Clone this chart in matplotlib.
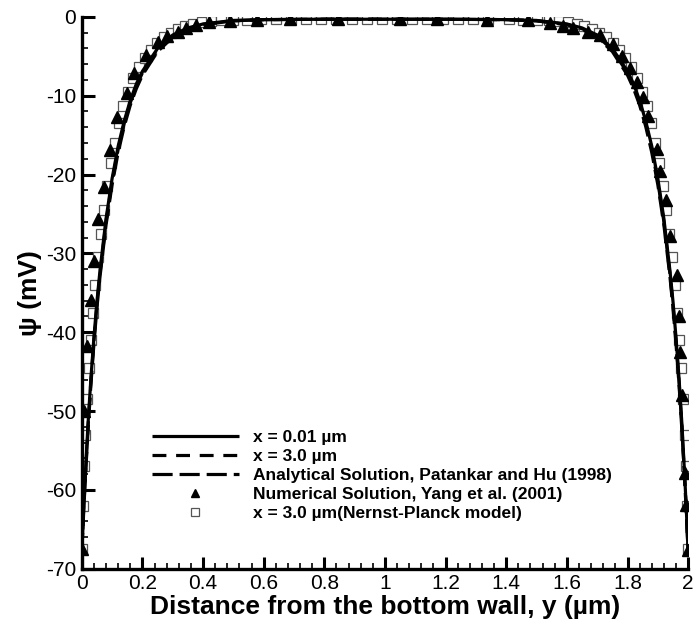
import matplotlib
matplotlib.use("Agg")
import matplotlib.pyplot as plt
from matplotlib.ticker import MultipleLocator, FuncFormatter

plt.rcParams['font.family'] = ['Liberation Sans', 'DejaVu Sans']
plt.rcParams['axes.unicode_minus'] = False
plt.rcParams['lines.scale_dashes'] = False

# ---- data ----
y_line = [0.0, 0.005, 0.01, 0.02, 0.03, 0.04, 0.05, 0.06, 0.08, 0.10, 0.12, 0.14, 0.16,
          0.18, 0.20, 0.25, 0.30, 0.35, 0.40, 0.50, 0.60, 0.80, 1.00, 1.20, 1.40, 1.50,
          1.60, 1.65, 1.70, 1.75, 1.80, 1.82, 1.84, 1.86, 1.88, 1.90, 1.92, 1.94, 1.95,
          1.96, 1.97, 1.98, 1.99, 1.995, 2.0]
psi_x001 = [-68.0, -63.4, -59.3, -52.0, -45.9, -40.7, -36.1, -32.2, -25.6, -20.5, -16.4, -13.2, -10.6,
            -8.5, -6.9, -4.0, -2.3, -1.4, -0.9, -0.45, -0.35, -0.3, -0.3, -0.3, -0.35, -0.45,
            -0.9, -1.4, -2.3, -4.0, -6.9, -8.5, -10.6, -13.2, -16.4, -20.5, -25.6, -32.2, -36.1,
            -40.7, -45.9, -52.0, -59.3, -63.4, -68.0]
psi_x30 = [-68.0, -63.6, -59.6, -52.4, -46.3, -41.1, -36.5, -32.6, -26.0, -20.9, -16.8, -13.5, -10.9,
           -8.8, -7.1, -4.2, -2.4, -1.5, -0.95, -0.5, -0.35, -0.3, -0.3, -0.3, -0.35, -0.5,
           -0.95, -1.5, -2.4, -4.2, -7.1, -8.8, -10.9, -13.5, -16.8, -20.9, -26.0, -32.6, -36.5,
           -41.1, -46.3, -52.4, -59.6, -63.6, -68.0]
psi_analytical = [-68.0, -63.8, -59.9, -52.8, -46.7, -41.5, -36.9, -33.0, -26.4, -21.3, -17.2, -13.9, -11.2,
                  -9.1, -7.4, -4.4, -2.6, -1.6, -1.0, -0.5, -0.35, -0.3, -0.3, -0.3, -0.35, -0.5,
                  -1.0, -1.6, -2.6, -4.4, -7.4, -9.1, -11.2, -13.9, -17.2, -21.3, -26.4, -33.0, -36.9,
                  -41.5, -46.7, -52.8, -59.9, -63.8, -68.0]

y_yang = [0.0, 0.008, 0.018, 0.030, 0.040, 0.055, 0.073, 0.092, 0.116, 0.148, 0.172, 0.213,
          0.252, 0.280, 0.318, 0.345, 0.378, 0.420, 0.490, 0.577, 0.686, 0.845, 1.050, 1.170,
          1.335, 1.473, 1.545, 1.588, 1.620, 1.671, 1.710, 1.751, 1.781, 1.809, 1.831, 1.850,
          1.869, 1.897, 1.908, 1.927, 1.940, 1.963, 1.970, 1.974, 1.981, 1.990, 1.993, 2.0]
psi_yang = [-67.5, -50.0, -41.8, -35.9, -31.0, -25.7, -21.6, -16.9, -12.7, -9.7, -7.1, -4.8,
            -3.2, -2.4, -1.9, -1.4, -1.0, -0.7, -0.5, -0.4, -0.3, -0.3, -0.3, -0.3,
            -0.35, -0.45, -0.8, -1.2, -1.4, -1.9, -2.3, -3.5, -4.9, -6.5, -8.2, -10.1,
            -12.6, -16.7, -19.6, -23.2, -27.8, -32.8, -38.0, -42.5, -47.9, -57.8, -61.9, -67.6]

y_np = [0.0, 0.004, 0.008, 0.012, 0.018, 0.024, 0.030, 0.037, 0.045, 0.053, 0.062, 0.072,
        0.083, 0.095, 0.108, 0.122, 0.137, 0.153, 0.170, 0.188, 0.207, 0.227, 0.248, 0.270,
        0.293, 0.317, 0.342, 0.368, 0.395, 0.425, 0.460, 0.500, 0.545, 0.590, 0.640, 0.690,
        0.740, 0.790, 0.840, 0.890, 0.940, 0.990, 1.040, 1.090, 1.140, 1.190, 1.240, 1.290,
        1.340, 1.410, 1.455, 1.500, 1.540, 1.575, 1.605, 1.632, 1.658, 1.683, 1.707, 1.730,
        1.752, 1.773, 1.793, 1.812, 1.830, 1.847, 1.863, 1.878, 1.892, 1.905, 1.917, 1.928,
        1.938, 1.947, 1.955, 1.963, 1.970, 1.976, 1.982, 1.988, 1.992, 1.996, 2.0]
psi_np = [-67.5, -62.0, -57.0, -53.0, -48.5, -44.5, -41.0, -37.5, -34.0, -30.5, -27.5, -24.5,
          -21.5, -18.5, -16.0, -13.5, -11.3, -9.5, -7.8, -6.4, -5.2, -4.2, -3.3, -2.6,
          -2.0, -1.6, -1.2, -0.9, -0.7, -0.55, -0.45, -0.4, -0.35, -0.3, -0.3, -0.3,
          -0.3, -0.3, -0.3, -0.3, -0.3, -0.3, -0.3, -0.3, -0.3, -0.3, -0.3, -0.3,
          -0.3, -0.3, -0.35, -0.4, -0.45, -0.55, -0.7, -0.9, -1.2, -1.6, -2.0, -2.6,
          -3.3, -4.2, -5.2, -6.4, -7.8, -9.5, -11.3, -13.5, -16.0, -18.5, -21.5, -24.5,
          -27.5, -30.5, -34.0, -37.5, -41.0, -44.5, -48.5, -53.0, -57.0, -62.0, -67.5]

labels = ["x = 0.01 \u00b5m", "x = 3.0 \u00b5m", "Analytical Solution, Patankar and Hu (1998)",
          "Numerical Solution, Yang et al. (2001)", "x = 3.0 \u00b5m(Nernst-Planck model)"]
x_ticks = [0, 0.2, 0.4, 0.6, 0.8, 1, 1.2, 1.4, 1.6, 1.8, 2]
y_ticks = [0, -10, -20, -30, -40, -50, -60, -70]

# ---- figure ----
fig = plt.figure(figsize=(6.93, 6.25), dpi=100)
ax = fig.add_axes([0.118, 0.09, 0.875, 0.883])

ax.plot(y_np, psi_np, linestyle='none', marker='s', markersize=6.5, markerfacecolor='white',
        markeredgecolor='#555555', markeredgewidth=0.9, zorder=2, label=labels[4])
ax.plot(y_line, psi_x001, color='black', lw=2.3, solid_capstyle='butt', zorder=3, label=labels[0])
ax.plot(y_line, psi_x30, color='black', lw=2.3, dashes=(10.0, 7.0), zorder=3, label=labels[1])
ax.plot(y_line, psi_analytical, color='black', lw=2.3, dashes=(14.5, 5.0), zorder=3, label=labels[2])
ax.plot(y_yang, psi_yang, linestyle='none', marker='^', markersize=8, color='black',
        zorder=4, label=labels[3])

ax.set_xlim(0, 2)
ax.set_ylim(-70, 0)
ax.set_xticks(x_ticks)
ax.set_yticks(y_ticks)
ax.xaxis.set_major_formatter(FuncFormatter(lambda v, p: f"{v:g}"))
ax.yaxis.set_major_formatter(FuncFormatter(lambda v, p: f"{v:g}"))
ax.xaxis.set_minor_locator(MultipleLocator(0.04))
ax.yaxis.set_minor_locator(MultipleLocator(2))

for s in ['top', 'right']:
    ax.spines[s].set_visible(False)
for s in ['left', 'bottom']:
    ax.spines[s].set_linewidth(2.4)

ax.tick_params(which='major', direction='in', length=9, width=2.2, labelsize=15, pad=4)
ax.tick_params(which='minor', direction='in', length=4.5, width=1.2)

ax.set_xlabel("Distance from the bottom wall, y (\u00b5m)", fontsize=19, fontweight='bold', labelpad=1)
ax.set_ylabel("\u03c8 (mV)", fontsize=19, fontweight='bold', labelpad=3)

handles, labs = ax.get_legend_handles_labels()
order = [1, 2, 3, 4, 0]
leg = ax.legend([handles[i] for i in order], [labs[i] for i in order],
                loc='upper left', bbox_to_anchor=(0.09, 0.28), frameon=False,
                prop={'weight': 'bold', 'size': 12.5}, handlelength=5.0, handletextpad=0.8,
                labelspacing=0.22, markerscale=0.8)

fig.savefig("out.png", dpi=100)
